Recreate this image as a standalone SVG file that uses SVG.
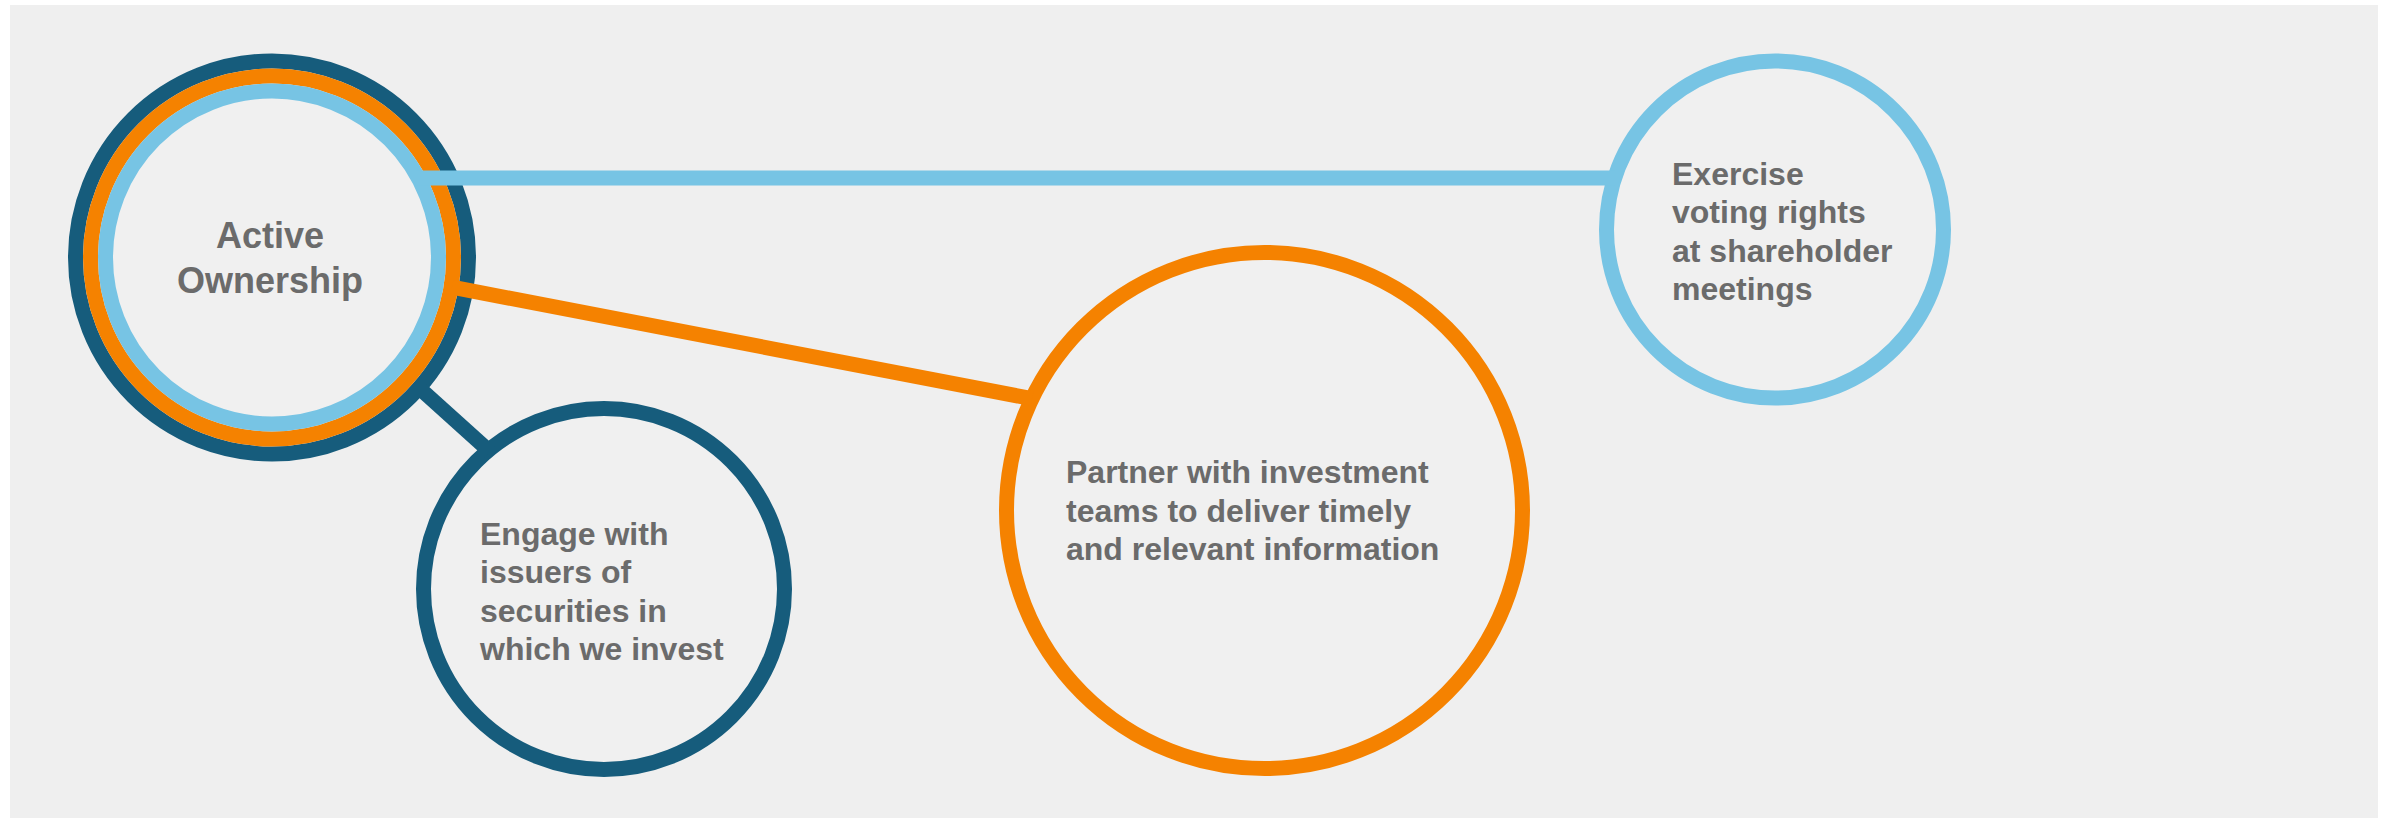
<svg xmlns="http://www.w3.org/2000/svg" width="2395" height="818" viewBox="0 0 2395 818">
<style>
.ring{fill:#f0f0f0;stroke-width:15}
.dk{stroke:#165c7c}
.or{stroke:#f58200}
.lb{stroke:#77c4e4}
.conn{fill:none;stroke-width:15;stroke-linecap:butt}
text{font-family:"Liberation Sans",Arial,sans-serif;font-weight:bold;fill:#6b6b6b}
.t32{font-size:32px}
.t36{font-size:36px}
</style>
<rect x="0" y="0" width="2395" height="818" fill="#ffffff"/>
<rect x="10" y="5" width="2368" height="813" fill="#efefef"/>
<g id="node-engage">
<circle class="ring dk" cx="604" cy="589" r="180.5"/>
<text class="t32" x="480" y="545">Engage with</text>
<text class="t32" x="480" y="583.3">issuers of</text>
<text class="t32" x="480" y="621.6">securities in</text>
<text class="t32" x="480" y="660">which we invest</text>
</g>
<g id="node-partner">
<circle class="ring or" cx="1264.5" cy="510.5" r="258"/>
<text class="t32" x="1066" y="483.3">Partner with investment</text>
<text class="t32" x="1066" y="521.7">teams to deliver timely</text>
<text class="t32" x="1066" y="560">and relevant information</text>
</g>
<g id="node-exercise">
<circle class="ring lb" cx="1775" cy="229.5" r="168.5"/>
<text class="t32" x="1672" y="185">Exercise</text>
<text class="t32" x="1672" y="223.3">voting rights</text>
<text class="t32" x="1672" y="261.7">at shareholder</text>
<text class="t32" x="1672" y="300">meetings</text>
</g>
<g id="node-active">
<circle class="ring dk" cx="272" cy="257.5" r="196.5"/>
<circle class="ring or" cx="272" cy="257.5" r="181.5"/>
<circle class="ring lb" cx="272" cy="257.5" r="166.5"/>
</g>
<g id="connectors">
<line class="conn lb" x1="416" y1="178" x2="1615" y2="178"/>
<line class="conn or" x1="452" y1="287.2" x2="1032" y2="398.7"/>
<line class="conn dk" x1="414" y1="383.3" x2="490" y2="451.7"/>
</g>
<g id="active-label">
<text class="t36" x="270" y="248" text-anchor="middle">Active</text>
<text class="t36" x="270" y="293" text-anchor="middle">Ownership</text>
</g>
</svg>
